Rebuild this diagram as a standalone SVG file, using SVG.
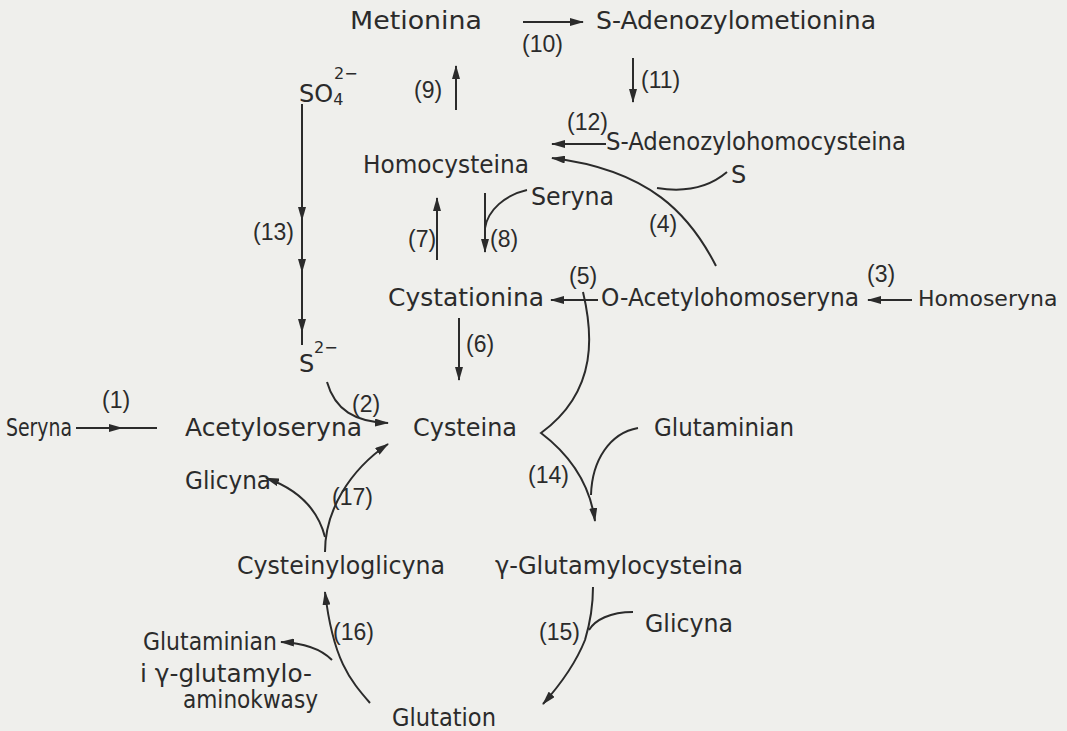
<svg xmlns="http://www.w3.org/2000/svg" width="1067" height="731" viewBox="0 0 1067 731">
<defs>
<marker id="ah" viewBox="0 0 14 8" markerUnits="userSpaceOnUse" markerWidth="14" markerHeight="8" refX="13" refY="4" orient="auto">
<path d="M0,0 L14,4 L0,8 Z" fill="#2b2b2b"/>
</marker>
<style>
text{font-family:"DejaVu Sans","Liberation Sans",sans-serif;font-size:24px;fill:#2b2b2b}
.l{font-family:"Liberation Sans","DejaVu Sans",sans-serif;font-size:23px}
.sup{font-size:16px}
.c{fill:none;stroke:#2b2b2b;stroke-width:2}
.a{marker-end:url(#ah)}
</style>
</defs>
<rect width="1067" height="731" fill="#efefec"/>
<g id="connectors">
<path class="c a" d="M523,22 H583"/>
<path class="c a" d="M633,58 V102"/>
<path class="c a" d="M456,110 V66"/>
<path class="c a" d="M606,144 H552"/>
<path class="c a" d="M716,266 C690,215 650,170 552,158"/>
<path class="c" d="M727,172 Q700,195 657,188"/>
<path class="c a" d="M437,260 V198"/>
<path class="c a" d="M485,193 V252"/>
<path class="c" d="M527,190 C505,195 488,210 485,228"/>
<path class="c a" d="M598,300 H551"/>
<path class="c a" d="M912,300 H868"/>
<path class="c a" d="M459,318 V380"/>
<path class="c a" d="M302,104 V220"/>
<path class="c a" d="M302,220 V272"/>
<path class="c a" d="M302,272 V332"/>
<path class="c" d="M302,332 V345"/>
<path class="c a" d="M327,382 C335,410 355,422 388,423"/>
<path class="c" d="M76,428 H157"/>
<path class="c a" d="M76,428 H122"/>
<path class="c a" d="M583,292 C592,330 600,390 541,433 C570,455 590,485 595,521"/>
<path class="c" d="M638,428 C610,433 592,460 591,495"/>
<path class="c a" d="M325,552 C325,510 350,470 388,444"/>
<path class="c a" d="M325,537 C318,510 300,490 266,478"/>
<path class="c a" d="M370,703 C350,680 333,660 325,592"/>
<path class="c a" d="M332,660 C322,650 305,643 281,642"/>
<path class="c a" d="M593,587 C593,610 588,630 585,640 C575,665 560,685 543,704"/>
<path class="c" d="M633,612 C610,612 595,620 589,630"/>
</g>
<g id="labels">
<text class="l" x="522" y="52">(10)</text>
<text class="l" x="641" y="88">(11)</text>
<text class="l" x="414" y="98">(9)</text>
<text class="l" x="567" y="130">(12)</text>
<text class="l" x="649" y="232">(4)</text>
<text class="l" x="408" y="247">(7)</text>
<text class="l" x="490" y="247">(8)</text>
<text class="l" x="569" y="284">(5)</text>
<text class="l" x="867" y="282">(3)</text>
<text class="l" x="466" y="352">(6)</text>
<text class="l" x="253" y="240">(13)</text>
<text class="l" x="352" y="412">(2)</text>
<text class="l" x="102" y="408">(1)</text>
<text class="l" x="528" y="483">(14)</text>
<text class="l" x="332" y="505">(17)</text>
<text class="l" x="333" y="640">(16)</text>
<text class="l" x="539" y="640">(15)</text>
</g>
<g id="n-metionina"><text x="350" y="29" textLength="132" lengthAdjust="spacingAndGlyphs">Metionina</text></g>
<g id="n-sam"><text x="596" y="29" textLength="280" lengthAdjust="spacingAndGlyphs">S-Adenozylometionina</text></g>
<g id="n-so4"><text x="299" y="102">SO<tspan class="sup" dy="3">4</tspan></text><text class="sup" x="334" y="79">2−</text></g>
<g id="n-sah"><text x="606" y="150" textLength="300" lengthAdjust="spacingAndGlyphs">S-Adenozylohomocysteina</text></g>
<g id="n-homocys"><text x="363" y="173" textLength="166" lengthAdjust="spacingAndGlyphs">Homocysteina</text></g>
<g id="n-s"><text x="731" y="183">S</text></g>
<g id="n-seryna1"><text x="531" y="205" textLength="83" lengthAdjust="spacingAndGlyphs">Seryna</text></g>
<g id="n-cystat"><text x="388" y="306" textLength="156" lengthAdjust="spacingAndGlyphs">Cystationina</text></g>
<g id="n-oacet"><text x="601" y="306" textLength="258" lengthAdjust="spacingAndGlyphs">O-Acetylohomoseryna</text></g>
<g id="n-homoser"><text x="918" y="306" style="font-size:22px">Homoseryna</text></g>
<g id="n-s2"><text x="299" y="372">S</text><text class="sup" x="314" y="353">2−</text></g>
<g id="n-seryna2"><text x="6" y="436" textLength="66" lengthAdjust="spacingAndGlyphs">Seryna</text></g>
<g id="n-acetyloser"><text x="185" y="436" textLength="177" lengthAdjust="spacingAndGlyphs">Acetyloseryna</text></g>
<g id="n-cysteina"><text x="413" y="436" textLength="104" lengthAdjust="spacingAndGlyphs">Cysteina</text></g>
<g id="n-glutaminian1"><text x="654" y="436" textLength="140" lengthAdjust="spacingAndGlyphs">Glutaminian</text></g>
<g id="n-glicyna1"><text x="185" y="489" textLength="86" lengthAdjust="spacingAndGlyphs">Glicyna</text></g>
<g id="n-cysglic"><text x="237" y="574" textLength="208" lengthAdjust="spacingAndGlyphs">Cysteinyloglicyna</text></g>
<g id="n-ggc"><text x="495" y="574" textLength="248" lengthAdjust="spacingAndGlyphs">γ-Glutamylocysteina</text></g>
<g id="n-glicyna2"><text x="645" y="632" textLength="88" lengthAdjust="spacingAndGlyphs">Glicyna</text></g>
<g id="n-glutaminian2"><text x="143" y="650" textLength="134" lengthAdjust="spacingAndGlyphs">Glutaminian</text><text x="140" y="682" textLength="172" lengthAdjust="spacingAndGlyphs">i γ-glutamylo-</text><text x="183" y="708" textLength="135" lengthAdjust="spacingAndGlyphs">aminokwasy</text></g>
<g id="n-glutation"><text x="392" y="726" textLength="104" lengthAdjust="spacingAndGlyphs">Glutation</text></g>
</svg>
